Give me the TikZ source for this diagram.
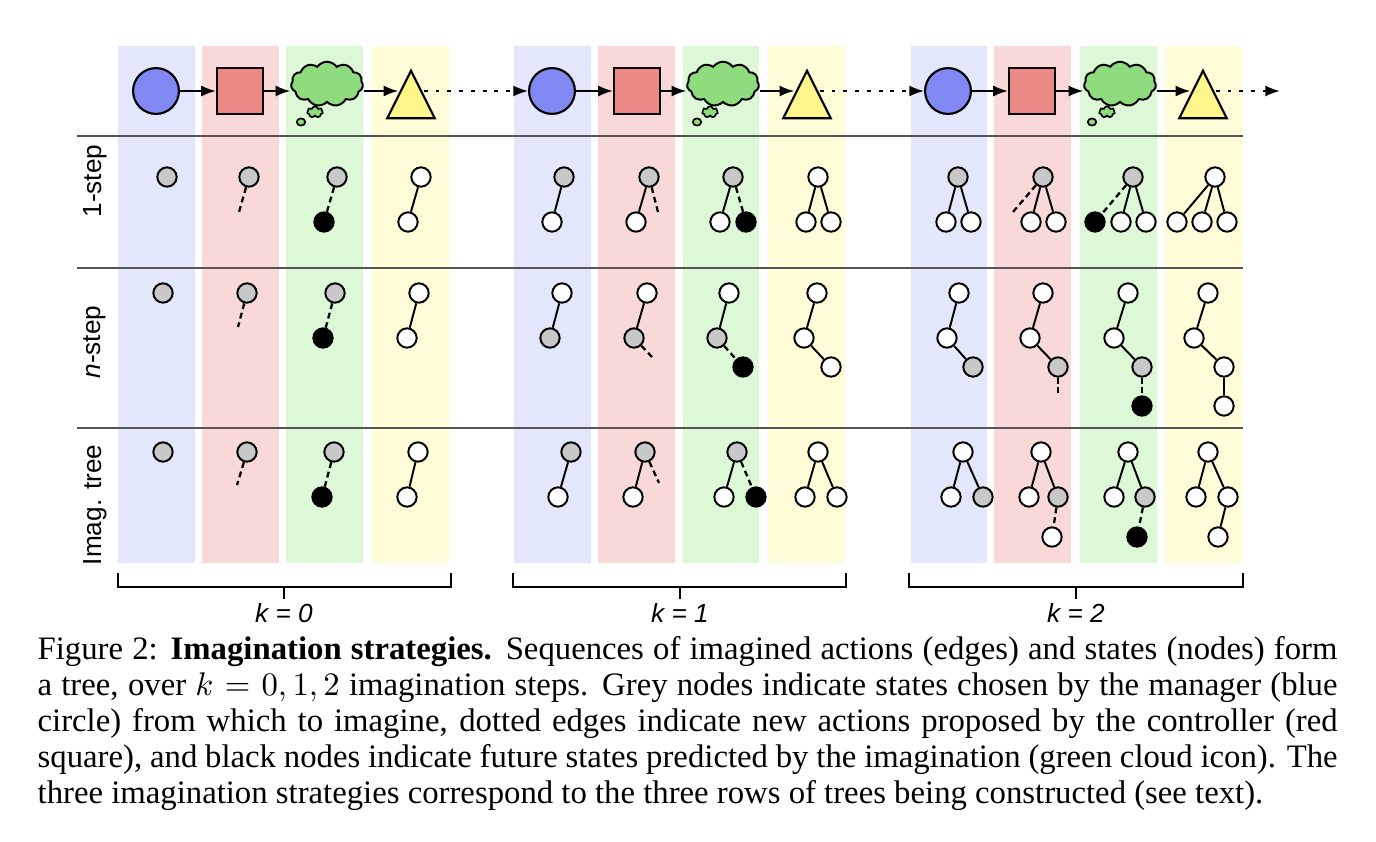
\documentclass[tikz,border=0pt]{standalone}
\usepackage{fontspec}
\setmainfont{Liberation Serif}
\setsansfont{Liberation Sans}
\usepackage{tikz}
\usetikzlibrary{arrows.meta,shapes.geometric,shapes.symbols}

\definecolor{colblue}{HTML}{E3E7FB}
\definecolor{colred}{HTML}{F8D9D8}
\definecolor{colgreen}{HTML}{DDF8D7}
\definecolor{colyellow}{HTML}{FEFDD8}
\definecolor{mgrblue}{HTML}{8188F1}
\definecolor{ctlred}{HTML}{EE8A86}
\definecolor{imggreen}{HTML}{8FDC7E}
\definecolor{outyellow}{HTML}{FEF68B}
\definecolor{nodegrey}{HTML}{C8C8C8}
\definecolor{sepgrey}{HTML}{555555}

\begin{document}
\begin{tikzpicture}[x=0.3054pt,y=-0.3054pt,>={Latex[length=4.5pt,width=3.4pt]},
  sbase/.style={circle,draw,line width=0.6pt,minimum size=5.9pt,inner sep=0pt},
  sgrey/.style={sbase,fill=nodegrey},
  swhite/.style={sbase,fill=white},
  sblack/.style={sbase,fill=black},
  act/.style={line width=0.6pt},
  newact/.style={line width=0.7pt,dash pattern=on 1.8pt off 1.2pt},
  mgr/.style={circle,draw,line width=0.65pt,fill=mgrblue,minimum size=14pt,inner sep=0pt},
  ctl/.style={rectangle,draw,line width=0.65pt,fill=ctlred,minimum size=14.1pt,inner sep=0pt},
  imag/.style={cloud,cloud puffs=11,cloud puff arc=110,cloud ignores aspect,draw,line width=0.6pt,fill=imggreen,minimum width=22pt,minimum height=13.6pt,inner sep=0pt},
  smallpuff/.style={cloud,cloud puffs=7,cloud ignores aspect,draw,line width=0.5pt,fill=imggreen,minimum width=4.8pt,minimum height=3.4pt,inner sep=0pt},
  tinypuff/.style={ellipse,draw,line width=0.5pt,fill=imggreen,minimum width=2.6pt,minimum height=2.2pt,inner sep=0pt},
  outc/.style={isosceles triangle,isosceles triangle stretches,shape border rotate=90,draw,line width=0.65pt,fill=outyellow,minimum width=14.5pt,minimum height=14.5pt,inner sep=0pt},
  flow/.style={->,line width=0.6pt},
  nextflow/.style={->,line width=0.6pt,dash pattern=on 1.2pt off 2.4pt},
  rowlabel/.style={font=\sffamily\fontsize{8}{9}\selectfont,rotate=90},
  klabel/.style={font=\sffamily\itshape\fontsize{8}{9}\selectfont},
  rowsep/.style={draw=sepgrey,line width=0.45pt},
  kbracket/.style={line width=0.6pt}]
\useasboundingbox (0,0) rectangle (1376,842);

% columns
\fill[colblue] (118,46) rectangle (195,563);
\fill[colred] (202,46) rectangle (279,563);
\fill[colgreen] (286,46) rectangle (363,563);
\fill[colyellow] (372,46) rectangle (449,563);
\fill[colblue] (514,46) rectangle (591,563);
\fill[colred] (598,46) rectangle (675,563);
\fill[colgreen] (683,46) rectangle (759,563);
\fill[colyellow] (768,46) rectangle (845,563);
\fill[colblue] (911,46) rectangle (987,563);
\fill[colred] (994,46) rectangle (1071,563);
\fill[colgreen] (1080,46) rectangle (1157,563);
\fill[colyellow] (1165,46) rectangle (1242,563);

\draw[rowsep] (77,136) -- (1243,136);
\draw[rowsep] (77,268) -- (1243,268);
\draw[rowsep] (77,428) -- (1243,428);

% top row
\node[mgr] (m0) at (156,91) {};
\node[ctl] (s0) at (240,91) {};
\node[imag] (c0) at (327,84) {};
\node[smallpuff] (p0a) at (315,112) {};
\node[tinypuff] (p0b) at (301,122) {};
\node[outc,anchor=apex] (y0) at (411,68) {};
\node[mgr] (m1) at (552,91) {};
\node[ctl] (s1) at (637,91) {};
\node[imag] (c1) at (723,84) {};
\node[smallpuff] (p1a) at (710,112) {};
\node[tinypuff] (p1b) at (697,122) {};
\node[outc,anchor=apex] (y1) at (807,68) {};
\node[mgr] (m2) at (948,91) {};
\node[ctl] (s2) at (1032,91) {};
\node[imag] (c2) at (1120,84) {};
\node[smallpuff] (p2a) at (1107,112) {};
\node[tinypuff] (p2b) at (1092,122) {};
\node[outc,anchor=apex] (y2) at (1203,68) {};
\coordinate (nxt) at (1280,91);
\draw[flow] (m0) -- (s0);
\draw[flow] (s0) -- (c0.west |- s0);
\draw[flow] (c0.east |- s0) -- (y0.left side |- s0);
\draw[nextflow] (y0.right side |- s0) -- (m1);
\draw[flow] (m1) -- (s1);
\draw[flow] (s1) -- (c1.west |- s1);
\draw[flow] (c1.east |- s1) -- (y1.left side |- s1);
\draw[nextflow] (y1.right side |- s1) -- (m2);
\draw[flow] (m2) -- (s2);
\draw[flow] (s2) -- (c2.west |- s2);
\draw[flow] (c2.east |- s2) -- (y2.left side |- s2);
\draw[nextflow] (y2.right side |- s2) -- (nxt);

% row labels
\node[rowlabel] (lone) at (95,181) {1-step};
\node[rowlabel] (lnst) at (95,342) {\textit{n}-step};
\node[rowlabel] (ltree) at (95,505) {Imag. tree};

% 1-step
\node[sgrey] (o0b1) at (167,177) {};
\node[sgrey] (o0r1) at (249,177) {};
\coordinate (o0rs) at (239,212);
\draw[newact] (o0r1) -- (o0rs);
\node[sgrey] (o0g1) at (337,177) {};
\node[sblack] (o0g2) at (324,222) {};
\draw[newact] (o0g1) -- (o0g2);
\node[swhite] (o0y1) at (421,177) {};
\node[swhite] (o0y2) at (408,222) {};
\draw[act] (o0y1) -- (o0y2);

\node[sgrey] (o1b1) at (564,177) {};
\node[swhite] (o1b2) at (552,222) {};
\draw[act] (o1b1) -- (o1b2);
\node[sgrey] (o1r1) at (649,177) {};
\node[swhite] (o1r2) at (636,222) {};
\coordinate (o1rs) at (658,212);
\draw[act] (o1r1) -- (o1r2);
\draw[newact] (o1r1) -- (o1rs);
\node[sgrey] (o1g1) at (733,177) {};
\node[swhite] (o1g2) at (720,222) {};
\node[sblack] (o1g3) at (746,222) {};
\draw[act] (o1g1) -- (o1g2);
\draw[newact] (o1g1) -- (o1g3);
\node[swhite] (o1y1) at (818,177) {};
\node[swhite] (o1y2) at (806,222) {};
\node[swhite] (o1y3) at (831,222) {};
\draw[act] (o1y1) -- (o1y2);
\draw[act] (o1y1) -- (o1y3);

\node[sgrey] (o2b1) at (958,177) {};
\node[swhite] (o2b2) at (946,222) {};
\node[swhite] (o2b3) at (971,222) {};
\draw[act] (o2b1) -- (o2b2);
\draw[act] (o2b1) -- (o2b3);
\node[sgrey] (o2r1) at (1043,177) {};
\node[swhite] (o2r2) at (1031,222) {};
\node[swhite] (o2r3) at (1056,222) {};
\coordinate (o2rs) at (1013,212);
\draw[act] (o2r1) -- (o2r2);
\draw[act] (o2r1) -- (o2r3);
\draw[newact] (o2r1) -- (o2rs);
\node[sgrey] (o2g1) at (1133,177) {};
\node[sblack] (o2g2) at (1095,222) {};
\node[swhite] (o2g3) at (1121,222) {};
\node[swhite] (o2g4) at (1146,222) {};
\draw[newact] (o2g1) -- (o2g2);
\draw[act] (o2g1) -- (o2g3);
\draw[act] (o2g1) -- (o2g4);
\node[swhite] (o2y1) at (1215,177) {};
\node[swhite] (o2y2) at (1177,222) {};
\node[swhite] (o2y3) at (1202,222) {};
\node[swhite] (o2y4) at (1227,222) {};
\draw[act] (o2y1) -- (o2y2);
\draw[act] (o2y1) -- (o2y3);
\draw[act] (o2y1) -- (o2y4);

% n-step
\node[sgrey] (n0b1) at (163,293) {};
\node[sgrey] (n0r1) at (247,293) {};
\coordinate (n0rs) at (238,327);
\draw[newact] (n0r1) -- (n0rs);
\node[sgrey] (n0g1) at (335,293) {};
\node[sblack] (n0g2) at (323,338) {};
\draw[newact] (n0g1) -- (n0g2);
\node[swhite] (n0y1) at (419,293) {};
\node[swhite] (n0y2) at (407,338) {};
\draw[act] (n0y1) -- (n0y2);

\node[swhite] (n1b1) at (562,293) {};
\node[sgrey] (n1b2) at (550,338) {};
\draw[act] (n1b1) -- (n1b2);
\node[swhite] (n1r1) at (647,293) {};
\node[sgrey] (n1r2) at (634,338) {};
\coordinate (n1rs) at (652,357);
\draw[act] (n1r1) -- (n1r2);
\draw[newact] (n1r2) -- (n1rs);
\node[swhite] (n1g1) at (729,293) {};
\node[sgrey] (n1g2) at (717,338) {};
\node[sblack] (n1g3) at (743,367) {};
\draw[act] (n1g1) -- (n1g2);
\draw[newact] (n1g2) -- (n1g3);
\node[swhite] (n1y1) at (817,293) {};
\node[swhite] (n1y2) at (804,338) {};
\node[swhite] (n1y3) at (831,367) {};
\draw[act] (n1y1) -- (n1y2);
\draw[act] (n1y2) -- (n1y3);

\node[swhite] (n2b1) at (959,293) {};
\node[swhite] (n2b2) at (947,338) {};
\node[sgrey] (n2b3) at (973,367) {};
\draw[act] (n2b1) -- (n2b2);
\draw[act] (n2b2) -- (n2b3);
\node[swhite] (n2r1) at (1043,293) {};
\node[swhite] (n2r2) at (1030,338) {};
\node[sgrey] (n2r3) at (1058,367) {};
\coordinate (n2rs) at (1058,397);
\draw[act] (n2r1) -- (n2r2);
\draw[act] (n2r2) -- (n2r3);
\draw[newact] (n2r3) -- (n2rs);
\node[swhite] (n2g1) at (1128,293) {};
\node[swhite] (n2g2) at (1114,338) {};
\node[sgrey] (n2g3) at (1142,367) {};
\node[sblack] (n2g4) at (1142,406) {};
\draw[act] (n2g1) -- (n2g2);
\draw[act] (n2g2) -- (n2g3);
\draw[newact] (n2g3) -- (n2g4);
\node[swhite] (n2y1) at (1208,293) {};
\node[swhite] (n2y2) at (1194,338) {};
\node[swhite] (n2y3) at (1224,367) {};
\node[swhite] (n2y4) at (1224,406) {};
\draw[act] (n2y1) -- (n2y2);
\draw[act] (n2y2) -- (n2y3);
\draw[act] (n2y3) -- (n2y4);

% imagination tree
\node[sgrey] (t0b1) at (163,452) {};
\node[sgrey] (t0r1) at (247,452) {};
\coordinate (t0rs) at (237,485);
\draw[newact] (t0r1) -- (t0rs);
\node[sgrey] (t0g1) at (334,452) {};
\node[sblack] (t0g2) at (322,497) {};
\draw[newact] (t0g1) -- (t0g2);
\node[swhite] (t0y1) at (418,452) {};
\node[swhite] (t0y2) at (407,497) {};
\draw[act] (t0y1) -- (t0y2);

\node[sgrey] (t1b1) at (571,452) {};
\node[swhite] (t1b2) at (558,497) {};
\draw[act] (t1b1) -- (t1b2);
\node[sgrey] (t1r1) at (645,452) {};
\node[swhite] (t1r2) at (633,497) {};
\coordinate (t1rs) at (659,483);
\draw[act] (t1r1) -- (t1r2);
\draw[newact] (t1r1) -- (t1rs);
\node[sgrey] (t1g1) at (737,452) {};
\node[swhite] (t1g2) at (724,497) {};
\node[sblack] (t1g3) at (756,497) {};
\draw[act] (t1g1) -- (t1g2);
\draw[newact] (t1g1) -- (t1g3);
\node[swhite] (t1y1) at (818,452) {};
\node[swhite] (t1y2) at (805,497) {};
\node[swhite] (t1y3) at (837,497) {};
\draw[act] (t1y1) -- (t1y2);
\draw[act] (t1y1) -- (t1y3);

\node[swhite] (t2b1) at (963,452) {};
\node[swhite] (t2b2) at (951,497) {};
\node[sgrey] (t2b3) at (983,497) {};
\draw[act] (t2b1) -- (t2b2);
\draw[act] (t2b1) -- (t2b3);
\node[swhite] (t2r1) at (1041,452) {};
\node[swhite] (t2r2) at (1029,497) {};
\node[sgrey] (t2r3) at (1058,497) {};
\node[swhite] (t2r4) at (1052,537) {};
\draw[act] (t2r1) -- (t2r2);
\draw[act] (t2r1) -- (t2r3);
\draw[newact] (t2r3) -- (t2r4);
\node[swhite] (t2g1) at (1128,452) {};
\node[swhite] (t2g2) at (1114,497) {};
\node[sgrey] (t2g3) at (1145,497) {};
\node[sblack] (t2g4) at (1137,537) {};
\draw[act] (t2g1) -- (t2g2);
\draw[act] (t2g1) -- (t2g3);
\draw[newact] (t2g3) -- (t2g4);
\node[swhite] (t2y1) at (1208,452) {};
\node[swhite] (t2y2) at (1196,497) {};
\node[swhite] (t2y3) at (1228,497) {};
\node[swhite] (t2y4) at (1218,537) {};
\draw[act] (t2y1) -- (t2y2);
\draw[act] (t2y1) -- (t2y3);
\draw[act] (t2y3) -- (t2y4);

% brackets
\draw[kbracket] (118,573) -- (118,587) -- (451,587) -- (451,573);
\draw[kbracket] (284,587) -- (284,599);
\draw[kbracket] (513,573) -- (513,587) -- (846,587) -- (846,573);
\draw[kbracket] (680,587) -- (680,599);
\draw[kbracket] (909,573) -- (909,587) -- (1243,587) -- (1243,573);
\draw[kbracket] (1076,587) -- (1076,599);
\node[klabel] (k0) at (284,613) {k = 0};
\node[klabel] (k1) at (680,613) {k = 1};
\node[klabel] (k2) at (1076,613) {k = 2};

% caption
\node[anchor=north west,text width=397pt,align=justify,inner sep=0pt,font=\fontsize{10}{11}\selectfont] (cap) at (37,636) {Figure 2: \textbf{Imagination strategies.} Sequences of imagined actions (edges) and states (nodes) form\linebreak a tree, over $k=0,1,2$ imagination steps. Grey nodes indicate states chosen by the manager (blue\linebreak circle) from which to imagine, dotted edges indicate new actions proposed by the controller (red\linebreak square), and black nodes indicate future states predicted by the imagination (green cloud icon). The\linebreak three imagination strategies correspond to the three rows of trees being constructed (see text).};
\end{tikzpicture}
\end{document}
